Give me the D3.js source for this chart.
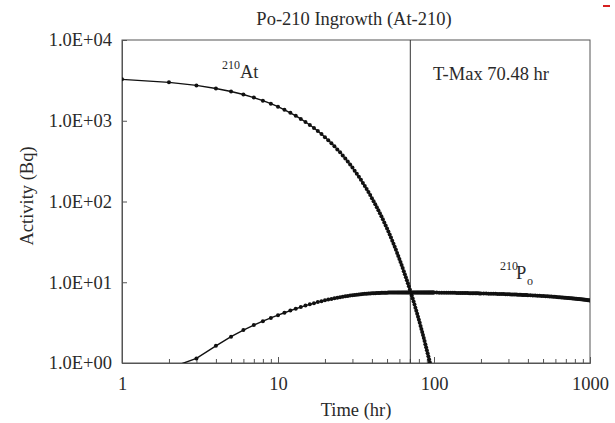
<!DOCTYPE html>
<html>
<head>
<meta charset="utf-8">
<script src="https://cdn.jsdelivr.net/npm/d3@7"></script>
<style>
  body { margin: 0; background: #fff; }
  svg { display: block; }
  text { font-family: "Liberation Serif", "Times New Roman", serif; fill: #2a2a2a; }
</style>
</head>
<body>
<svg id="chart" width="615" height="423"></svg>
<script>
// ---- data: At-210 parent decay and Po-210 ingrowth (activity in Bq, time in hr) ----
const atHours = [1,2,3,4,5,6,7,8,9,10,11,12,13,14,15,16,17,18,19,20,21,22,23,24,25,26,27,28,29,30,
  31,32,33,34,35,36,37,38,39,40,41,42,43,44,45,46,47,48,49,50,51,52,53,54,55,56,57,58,59,60,
  61,62,63,64,65,66,67,68,69,70,71,72,73,74,75,76,77,78,79,80,81,82,83,84,85,86,87,88,89,90,
  91,92,93,94,95,96];
const atActivity = [3258,2987,2739,2511,2302,2111,1935,1774,1627,1492,1368,1254,1150,1054,966,886,812,745,683,626,
  574,526,483,442,406,372,341,313,287,263,241,221,203,186,170,156,143,131,120,110,
  101,92.7,85.0,77.9,71.4,65.5,60.1,55.1,50.5,46.3,42.4,38.9,35.7,32.7,30.0,27.5,25.2,23.1,21.2,19.4,
  17.8,16.3,15.0,13.7,12.6,11.5,10.6,9.7,8.9,8.16,7.48,6.86,6.29,5.77,5.29,4.85,4.45,4.08,3.74,3.43,
  3.14,2.88,2.64,2.42,2.22,2.04,1.87,1.71,1.57,1.44,1.32,1.21,1.11,1.02,0.94,0.86];

const poHours = [2,3,4,5,6,7,8,9,10,11,12,13,14,15,16,17,18,19,20,21,22,23,24,25,26,27,28,29,30,
  31,32,33,34,35,36,37,38,39,40,41,42,43,44,45,46,47,48,49,50,51,52,53,54,55,56,57,58,59,60,
  61,62,63,64,65,66,67,68,69,70,71,72,73,74,75,76,77,78,79,80,81,82,83,84,85,86,87,88,89,90,
  91,92,93,94,95,96,97,98,99,100,
  104,108,112,116,120,124,128,132,136,140,144,148,152,156,160,164,168,172,176,180,184,188,192,196,200,
  208,216,224,232,240,248,256,264,272,280,288,296,304,312,320,328,336,344,352,360,368,376,384,392,400,
  415,430,445,460,475,490,505,520,535,550,565,580,595,610,625,640,655,670,685,700,
  715,730,745,760,775,790,805,820,835,850,865,880,895,910,925,940,955,970,985,1000];
const poActivity = [0.86,1.14,1.63,2.12,2.56,2.95,3.30,3.62,3.91,4.19,4.46,4.70,4.93,5.14,5.33,5.51,5.68,5.83,5.97,
  6.10,6.22,6.33,6.43,6.53,6.62,6.70,6.77,6.84,6.90,6.96,7.01,7.06,7.10,7.14,7.18,7.21,7.24,7.27,7.29,
  7.32,7.33,7.35,7.37,7.38,7.39,7.41,7.42,7.42,7.43,7.44,7.45,7.45,7.46,7.46,7.47,7.47,7.47,7.48,7.48,
  7.48,7.48,7.48,7.49,7.49,7.49,7.49,7.49,7.49,7.49,7.49,7.49,7.49,7.49,7.48,7.48,7.48,7.48,7.48,7.48,
  7.48,7.47,7.47,7.47,7.47,7.47,7.47,7.47,7.47,7.47,7.46,7.46,7.46,7.46,7.46,7.46,7.45,7.45,7.45,7.45,
  7.445,7.438,7.431,7.423,7.416,7.409,7.401,7.394,7.387,7.379,7.372,7.365,7.357,7.350,7.343,7.335,7.328,7.321,7.314,7.306,
  7.299,7.292,7.285,7.278,7.270,
  7.256,7.241,7.227,7.213,7.199,7.184,7.170,7.156,7.142,7.128,7.113,7.099,7.085,7.071,7.057,7.043,7.029,7.015,7.001,6.987,
  6.974,6.960,6.946,6.932,6.918,
  6.893,6.867,6.842,6.816,6.791,6.766,6.741,6.716,6.691,6.666,6.641,6.617,6.592,6.567,6.543,6.519,6.495,6.470,6.446,6.422,
  6.399,6.375,6.351,6.328,6.304,6.281,6.257,6.234,6.211,6.188,6.165,6.142,6.119,6.097,6.074,6.051,6.029,6.006,5.984,5.962];

const tMax = 70.48;
const xMajorTicks = [1, 10, 100, 1000];
const xTickLabels = ["1", "10", "100", "1000"];
const xMinorTicks = [2,3,4,5,6,7,8,9,20,30,40,50,60,70,80,90,200,300,400,500,600,700,800,900];
const yTicks = [1, 10, 100, 1000, 10000];
const yTickLabels = ["1.0E+00", "1.0E+01", "1.0E+02", "1.0E+03", "1.0E+04"];

// ---- layout ----
const plot = { left: 122, right: 590, top: 40, bottom: 363 };
const svg = d3.select("#chart");

const x = d3.scaleLog().domain([1, 1000]).range([plot.left, plot.right]);
const y = d3.scaleLog().domain([1, 10000]).range([plot.bottom, plot.top]);

const axisColor = "#555";
const fontSize = 18.5;

// clip region for the curves
svg.append("defs").append("clipPath").attr("id", "plotClip")
  .append("rect")
  .attr("x", plot.left).attr("y", plot.top)
  .attr("width", plot.right - plot.left).attr("height", plot.bottom - plot.top);

// frame
svg.append("rect")
  .attr("x", plot.left).attr("y", plot.top)
  .attr("width", plot.right - plot.left).attr("height", plot.bottom - plot.top)
  .attr("fill", "none").attr("stroke", axisColor).attr("stroke-width", 1);

// x axis: minor ticks (inside) and major ticks with labels
const gxMinor = svg.append("g").attr("transform", `translate(0,${plot.bottom})`)
  .call(d3.axisBottom(x).tickValues(xMinorTicks).tickSizeInner(-4).tickSizeOuter(0).tickFormat(""));
const gxMajor = svg.append("g").attr("transform", `translate(0,${plot.bottom})`)
  .call(d3.axisBottom(x).tickValues(xMajorTicks).tickSizeInner(-6).tickSizeOuter(0)
    .tickPadding(14).tickFormat((d, i) => xTickLabels[i]));
[gxMinor, gxMajor].forEach(g => {
  g.select(".domain").attr("stroke", axisColor);
  g.selectAll(".tick line").attr("stroke", axisColor);
});
gxMajor.selectAll(".tick text")
  .attr("font-size", fontSize).attr("fill", "#2a2a2a")
  .style("font-family", '"Liberation Serif", serif');

// y axis
const gy = svg.append("g").attr("transform", `translate(${plot.left},0)`)
  .call(d3.axisLeft(y).tickValues(yTicks).tickSizeInner(-5).tickSizeOuter(0)
    .tickPadding(10).tickFormat((d, i) => yTickLabels[i]));
gy.select(".domain").attr("stroke", axisColor);
gy.selectAll(".tick line").attr("stroke", axisColor);
gy.selectAll(".tick text")
  .attr("font-size", fontSize).attr("fill", "#2a2a2a")
  .style("font-family", '"Liberation Serif", serif');

// T-max marker line
svg.append("line")
  .attr("x1", x(tMax)).attr("x2", x(tMax))
  .attr("y1", plot.top).attr("y2", plot.bottom)
  .attr("stroke", "#333").attr("stroke-width", 1);

// curves with point markers
const curves = svg.append("g").attr("clip-path", "url(#plotClip)");
function drawSeries(hours, values) {
  const pts = hours.map((h, i) => [h, values[i]]);
  const line = d3.line().x(d => x(d[0])).y(d => y(d[1]));
  curves.append("path").datum(pts)
    .attr("d", line).attr("fill", "none")
    .attr("stroke", "#111").attr("stroke-width", 1.4);
  curves.append("g").selectAll("circle").data(pts).join("circle")
    .attr("cx", d => x(d[0])).attr("cy", d => y(d[1]))
    .attr("r", 2).attr("fill", "#111");
}
drawSeries(atHours, atActivity);
drawSeries(poHours, poActivity);

// title and axis titles
svg.append("text").attr("x", 354).attr("y", 25).attr("text-anchor", "middle")
  .attr("font-size", fontSize).text("Po-210 Ingrowth (At-210)");
svg.append("text").attr("x", 356).attr("y", 416).attr("text-anchor", "middle")
  .attr("font-size", fontSize).text("Time (hr)");
svg.append("text").attr("transform", "translate(33,196) rotate(-90)").attr("text-anchor", "middle")
  .attr("font-size", fontSize).text("Activity (Bq)");

// curve annotations
svg.append("text").attr("x", 222).attr("y", 69).attr("font-size", 12).text("210");
svg.append("text").attr("x", 240).attr("y", 78).attr("font-size", fontSize).text("At");
svg.append("text").attr("x", 433).attr("y", 80).attr("font-size", fontSize).text("T-Max 70.48 hr");
svg.append("text").attr("x", 500).attr("y", 270).attr("font-size", 12).text("210");
svg.append("text").attr("x", 516).attr("y", 279).attr("font-size", fontSize).text("P");
svg.append("text").attr("x", 527).attr("y", 285).attr("font-size", 12).text("o");

// small red mark in the top-right corner
svg.append("line").attr("x1", 603).attr("x2", 610).attr("y1", 6).attr("y2", 6)
  .attr("stroke", "#d62020").attr("stroke-width", 2);
</script>
</body>
</html>
